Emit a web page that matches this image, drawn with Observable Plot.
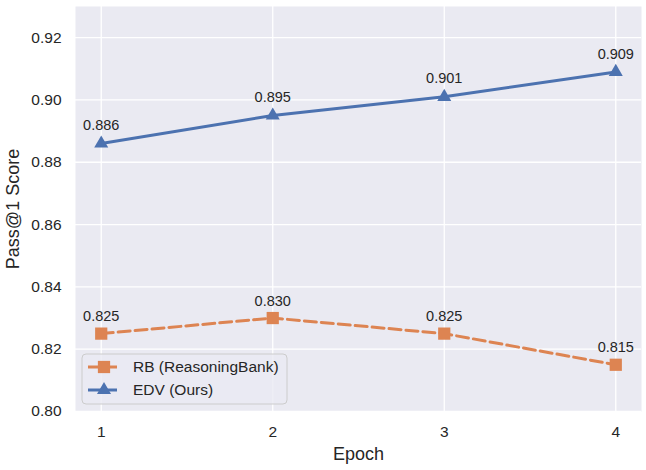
<!DOCTYPE html>
<html>
<head>
<meta charset="utf-8">
<script src="https://cdn.jsdelivr.net/npm/d3@7"></script>
<script src="https://cdn.jsdelivr.net/npm/@observablehq/plot@0.6"></script>
<style>
  html, body { margin: 0; padding: 0; background: #fff; }
  #chart svg { display: block; }
</style>
</head>
<body>
<div id="chart"></div>
<script>
// Pass@1 score per training epoch for two memory methods
const epochs = [1, 2, 3, 4];
const rbScores = [0.825, 0.830, 0.825, 0.815];
const edvScores = [0.886, 0.895, 0.901, 0.909];
const seriesNames = ["RB (ReasoningBank)", "EDV (Ours)"];
const yTicks = [0.80, 0.82, 0.84, 0.86, 0.88, 0.90, 0.92];

const orange = "#DD8452";
const blue = "#4C72B0";
const ink = "#262626";

const rb = epochs.map((e, i) => ({epoch: e, score: rbScores[i]}));
const edv = epochs.map((e, i) => ({epoch: e, score: edvScores[i]}));

const chart = Plot.plot({
  width: 646,
  height: 470,
  marginLeft: 75,
  marginRight: 5,
  marginTop: 6,
  marginBottom: 59,
  style: {fontFamily: "'Liberation Sans', Arial, sans-serif", color: ink, background: "#fff"},
  x: {domain: [0.85, 4.15]},
  y: {domain: [0.80, 0.93]},
  marks: [
    Plot.frame({fill: "#EAEAF2", stroke: null}),
    Plot.gridX(epochs, {stroke: "#fff", strokeOpacity: 1, strokeWidth: 1.3}),
    Plot.gridY(yTicks, {stroke: "#fff", strokeOpacity: 1, strokeWidth: 1.3}),
    Plot.axisX(epochs, {tickSize: 0, tickPadding: 14, fontSize: 15.5, label: "Epoch",
      labelAnchor: "center", labelArrow: "none", labelOffset: 48, tickFormat: d => String(d)}),
    Plot.axisY(yTicks, {tickSize: 0, tickPadding: 14, fontSize: 15.5, label: "Pass@1 Score",
      labelAnchor: "center", labelArrow: "none", labelOffset: 69, tickFormat: d3.format(".2f")}),
    Plot.line(rb, {x: "epoch", y: "score", stroke: orange, strokeWidth: 3, strokeDasharray: "12,5"}),
    Plot.line(edv, {x: "epoch", y: "score", stroke: blue, strokeWidth: 3}),
    Plot.dot(rb, {x: "epoch", y: "score", symbol: "square", r: 6.9, fill: orange, stroke: null}),
    Plot.dot(edv, {x: "epoch", y: "score", symbol: "triangle", r: 5.2, fill: blue, stroke: null}),
    Plot.text(rb, {x: "epoch", y: "score", text: d => d3.format(".3f")(d.score), dy: -17, fontSize: 14.5, fill: ink}),
    Plot.text(edv, {x: "epoch", y: "score", text: d => d3.format(".3f")(d.score), dy: -18, fontSize: 14.5, fill: ink})
  ]
});

// Axis label font sizes
d3.select(chart).selectAll("g[aria-label='x-axis label'] text, g[aria-label='y-axis label'] text")
  .attr("font-size", 18);

// Legend box in the lower-left corner of the plot area
const svg = d3.select(chart);
const lg = svg.append("g").attr("transform", "translate(82,354)").attr("text-anchor", "start");
lg.append("rect").attr("width", 205).attr("height", 50).attr("rx", 4)
  .attr("fill", "#EAEAF2").attr("fill-opacity", 0.8).attr("stroke", "#CCCCCC").attr("stroke-width", 1);
const entries = [
  {name: seriesNames[0], color: orange, dash: "12,5", symbol: d3.symbolSquare, size: 150},
  {name: seriesNames[1], color: blue, dash: null, symbol: d3.symbolTriangle, size: 85}
];
entries.forEach((e, i) => {
  const y = 13 + i * 23;
  lg.append("line").attr("x1", 6).attr("x2", 35).attr("y1", y).attr("y2", y)
    .attr("stroke", e.color).attr("stroke-width", 3).attr("stroke-dasharray", e.dash);
  lg.append("path").attr("d", d3.symbol(e.symbol, e.size)()).attr("transform", `translate(22,${y})`)
    .attr("fill", e.color);
  lg.append("text").attr("x", 51).attr("y", y).attr("dy", "0.35em")
    .attr("text-anchor", "start").attr("font-size", 15.5).attr("fill", ink).text(e.name);
});

document.getElementById("chart").appendChild(chart);
</script>
</body>
</html>
